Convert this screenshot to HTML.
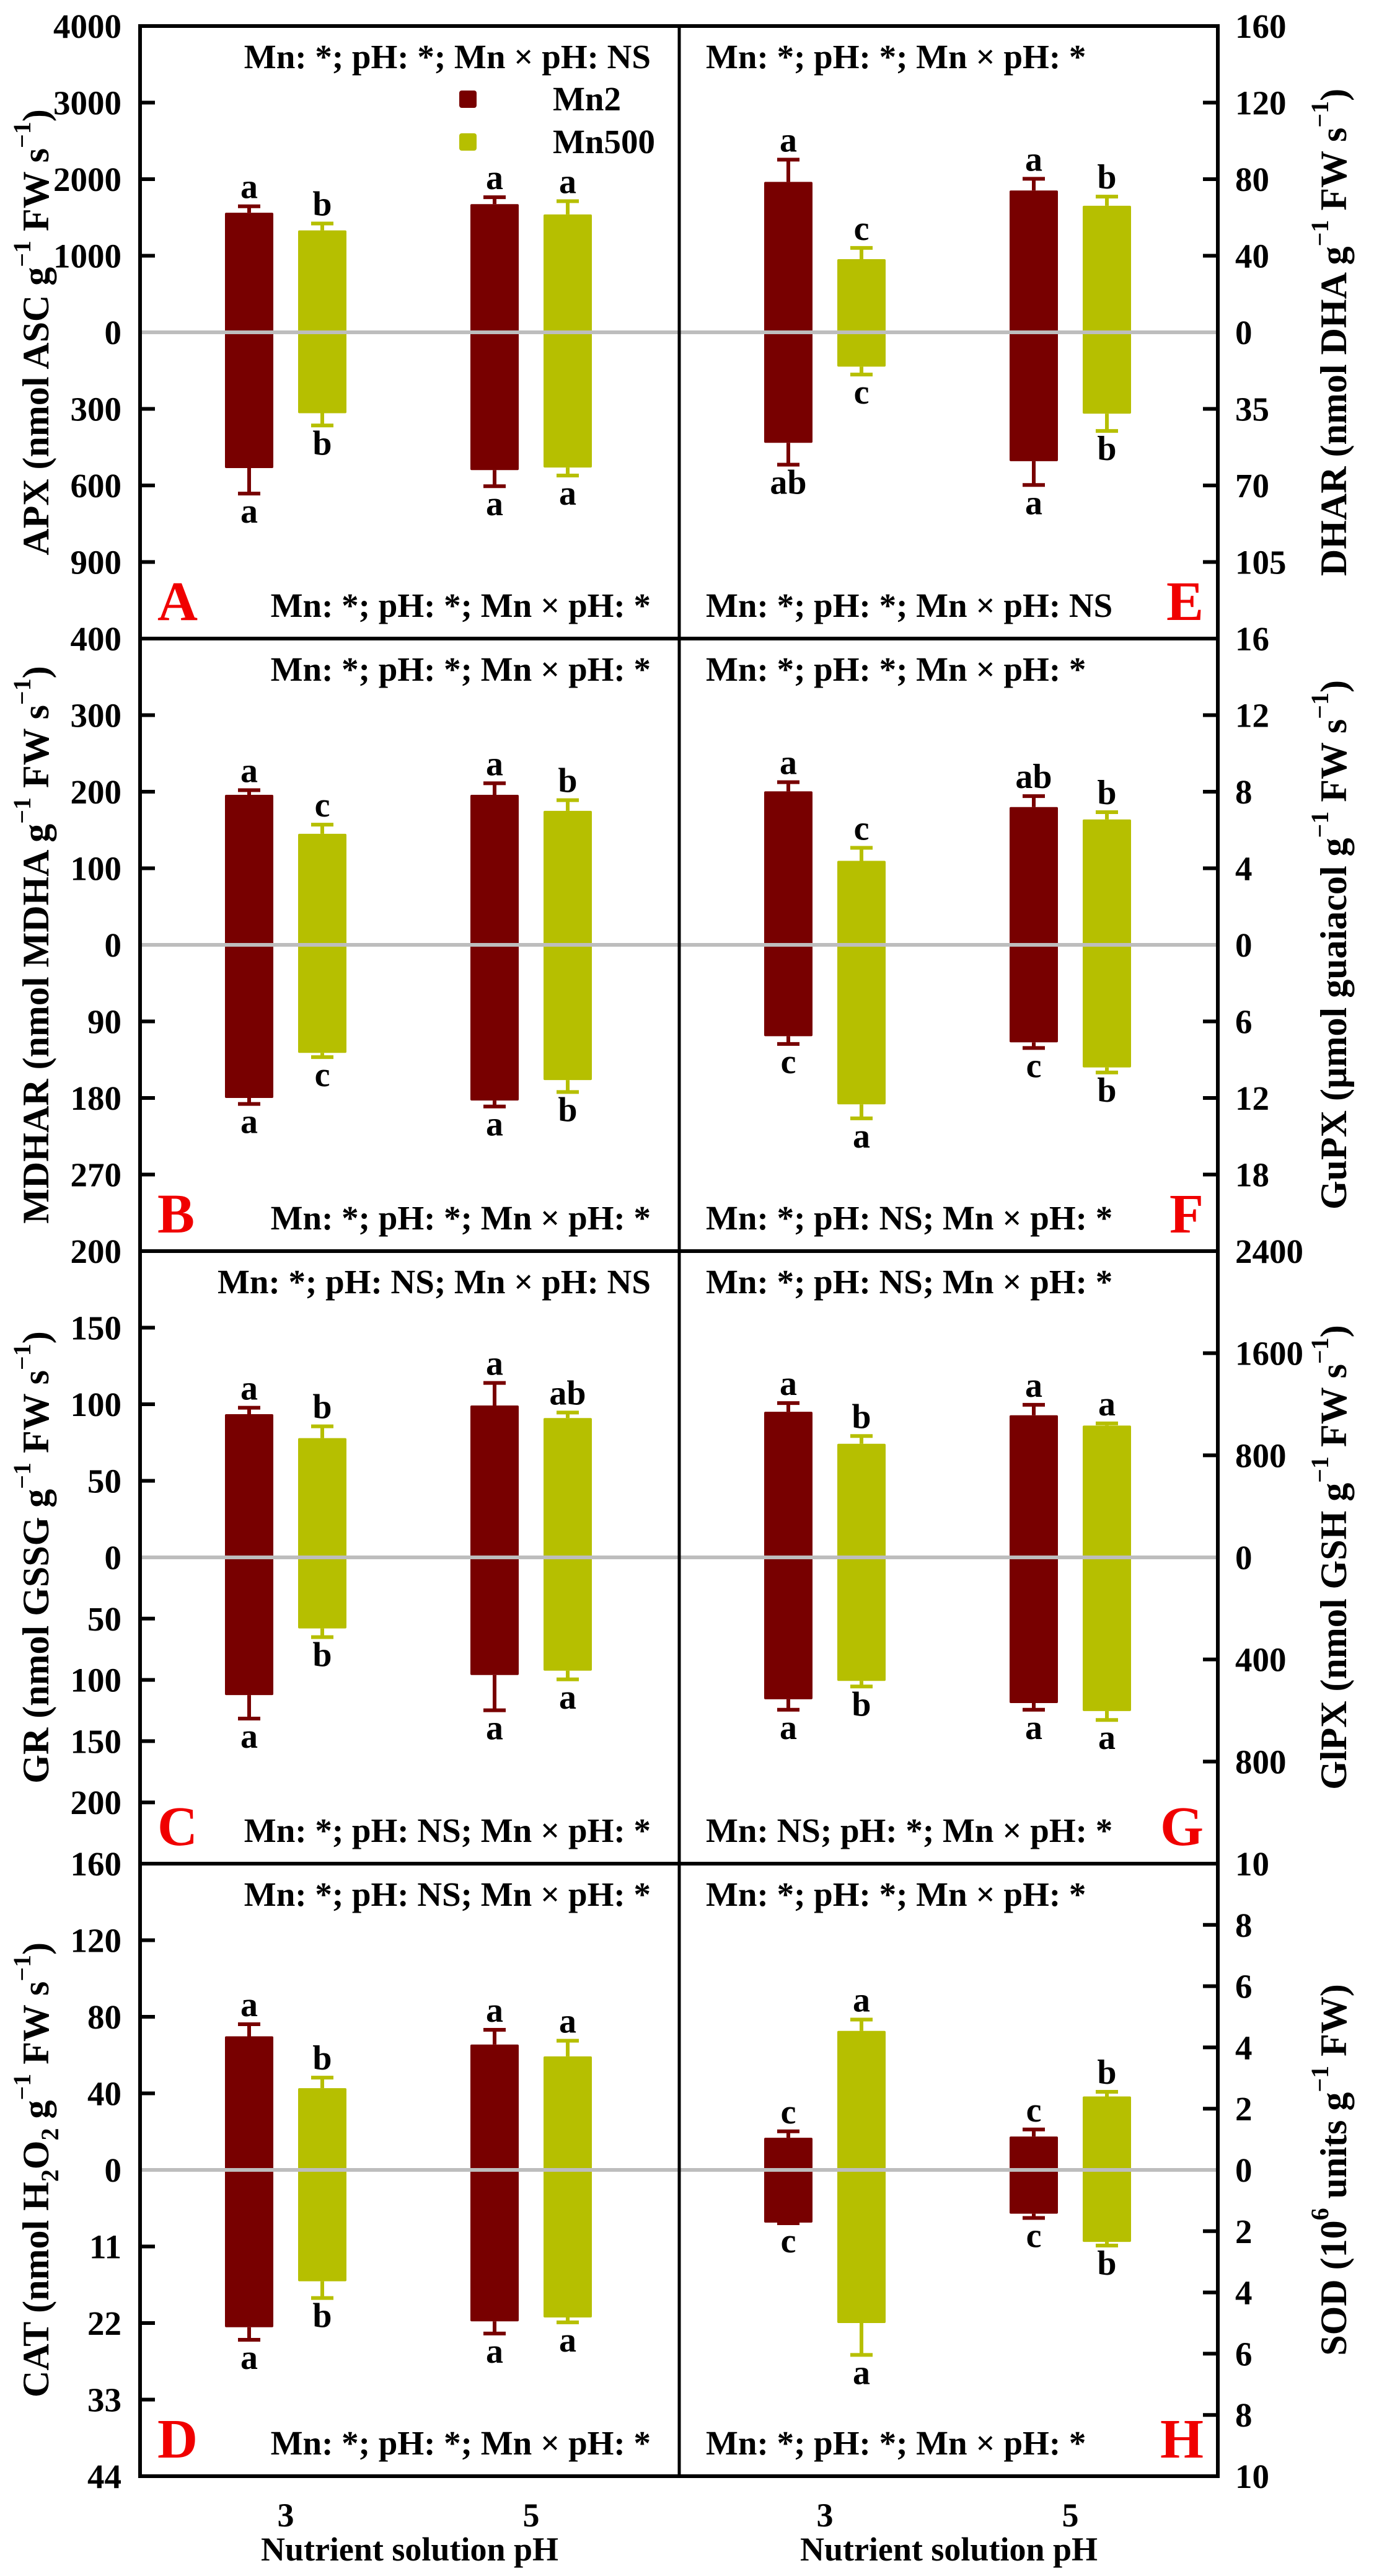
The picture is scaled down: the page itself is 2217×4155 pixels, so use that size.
<!DOCTYPE html>
<html><head><meta charset="utf-8"><style>
html,body{margin:0;padding:0;background:#fff;}
svg{display:block;font-family:"Liberation Serif",serif;font-weight:bold;}
</style></head><body>
<svg id="chart" width="2217" height="4155" viewBox="0 0 2217 4155" xmlns="http://www.w3.org/2000/svg"></svg>
<script>
// Order in every array: [Mn2 pH3, Mn500 pH3, Mn2 pH5, Mn500 pH5]
const aUp=[1562,1331,1674,1539], aUpErr=[1646,1421,1764,1713], aDn=[532,317,540,530], aDnErr=[632,365,603,561];
const aUpLet=['a','b','a','a'], aDnLet=['a','b','a','a'];
const bUp=[196,145,196,175], bUpErr=[202,157,211,189], bDn=[180,127,183,159], bDnErr=[187,132,190,173];
const bUpLet=['a','c','a','b'], bDnLet=['a','c','a','b'];
const cUp=[93.5,77.9,99.2,91], cUpErr=[97.7,85.6,113.9,94.6], cDn=[112.4,58,96,92.5], cDnErr=[131.6,65.1,124.8,99.6];
const cUpLet=['a','b','a','ab'], cDnLet=['a','b','a','a'];
const dUp=[69.8,42.7,65.5,59.3], dUpErr=[76.1,48.2,73.2,67.5], dDn=[22.6,16.0,21.75,21.2], dDnErr=[24.4,18.4,23.5,21.9];
const dUpLet=['a','b','a','a'], dDnLet=['a','b','a','a'];
const eUp=[78.6,38.2,74.1,66.1], eUpErr=[90.2,44.1,80.2,70.9], eDn=[50.5,15.7,58.9,37.2], eDnErr=[60.5,19.3,69.8,45.1];
const eUpLet=['a','c','a','b'], eDnLet=['ab','c','a','b'];
const fUp=[8.02,4.39,7.2,6.55], fUpErr=[8.5,5.07,7.77,6.93], fDn=[7.16,12.5,7.64,9.61], fDnErr=[7.77,13.6,8.08,10.0];
const fUpLet=['a','c','ab','b'], fDnLet=['c','a','c','b'];
const gUp=[1141,890,1114,1033], gUpErr=[1209,951,1196,1050], gDn=[556,484,571,602], gDnErr=[597,506,597,637];
const gUpLet=['a','b','a','a'], gDnLet=['a','b','a','a'];
const hUp=[1.05,4.54,1.09,2.4], hUpErr=[1.26,4.91,1.32,2.55], hDn=[1.72,5.0,1.43,2.35], hDnErr=[1.74,6.04,1.57,2.47];
const hUpLet=['c','a','c','b'], hDnLet=['c','a','c','b'];
// axis ranges and ticks
const upMax=[4000,400,200,160,160,16,2400,10];
const dnMax=[1200,360,250,44,140,24,1200,10];
const upTicks=[[1000,2000,3000,4000],[100,200,300,400],[50,100,150,200],[40,80,120,160],[40,80,120,160],[4,8,12,16],[800,1600,2400],[2,4,6,8,10]];
const dnTicks=[[300,600,900],[90,180,270],[50,100,150,200],[11,22,33,44],[35,70,105],[6,12,18],[400,800],[2,4,6,8,10]];
const panelLetters=['A','B','C','D','E','F','G','H'];
const statTop=['Mn: *; pH: *; Mn \u00d7 pH: NS','Mn: *; pH: *; Mn \u00d7 pH: *','Mn: *; pH: NS; Mn \u00d7 pH: NS','Mn: *; pH: NS; Mn \u00d7 pH: *','Mn: *; pH: *; Mn \u00d7 pH: *','Mn: *; pH: *; Mn \u00d7 pH: *','Mn: *; pH: NS; Mn \u00d7 pH: *','Mn: *; pH: *; Mn \u00d7 pH: *'];
const statBot=['Mn: *; pH: *; Mn \u00d7 pH: *','Mn: *; pH: *; Mn \u00d7 pH: *','Mn: *; pH: NS; Mn \u00d7 pH: *','Mn: *; pH: *; Mn \u00d7 pH: *','Mn: *; pH: *; Mn \u00d7 pH: NS','Mn: *; pH: NS; Mn \u00d7 pH: *','Mn: NS; pH: *; Mn \u00d7 pH: *','Mn: *; pH: *; Mn \u00d7 pH: *'];
const titleMain=['APX (nmol ASC g','MDHAR (nmol MDHA g','GR (nmol GSSG g','CAT (nmol H','DHAR (nmol DHA g','GuPX (\u00b5mol guaiacol g','GlPX (nmol GSH g','SOD  (10'];
const pHLabels=['3','5'];
const seriesNames=['Mn2','Mn500'];

const UP=[aUp,bUp,cUp,dUp,eUp,fUp,gUp,hUp], UPE=[aUpErr,bUpErr,cUpErr,dUpErr,eUpErr,fUpErr,gUpErr,hUpErr];
const DN=[aDn,bDn,cDn,dDn,eDn,fDn,gDn,hDn], DNE=[aDnErr,bDnErr,cDnErr,dDnErr,eDnErr,fDnErr,gDnErr,hDnErr];
const UL=[aUpLet,bUpLet,cUpLet,dUpLet,eUpLet,fUpLet,gUpLet,hUpLet], DL=[aDnLet,bDnLet,cDnLet,dDnLet,eDnLet,fDnLet,gDnLet,hDnLet];

const svg=document.getElementById('chart');
const NS='http://www.w3.org/2000/svg';
function el(tag,attrs,parent){const e=document.createElementNS(NS,tag);for(const k in attrs)e.setAttribute(k,attrs[k]);(parent||svg).appendChild(e);return e;}
const COLORS=['#780000','#b6bf00'];
const X0=226,XM=1096,X1=1965,TOP=42,PH=988,HALF=494;
const GROUP_OFF=[235,631], BAR_OFF=[-59,59], BW=78, CAP=36;

for(let p=0;p<8;p++){
  const col=p<4?0:1, row=p%4;
  const px=col?XM:X0, top=TOP+row*PH, zero=top+HALF;
  const yUp=v=>zero-v/upMax[p]*HALF, yDn=v=>zero+v/dnMax[p]*HALF;
  const g=el('g',{});
  
  
  for(let i=0;i<4;i++){
    const s=i%2, grp=Math.floor(i/2);
    const cx=px+GROUP_OFF[grp]+BAR_OFF[s];
    const yt=yUp(UP[p][i]), yb=yDn(DN[p][i]);
    const r=el('rect',{x:cx-BW/2,y:yt,width:BW,height:yb-yt,fill:COLORS[s],rx:2},g);
    
    
    const ye=yUp(UPE[p][i]), yd=yDn(DNE[p][i]);
    const e1=el('path',{d:`M${cx},${yt}V${ye}M${cx-CAP/2},${ye}H${cx+CAP/2}M${cx},${yb}V${yd}M${cx-CAP/2},${yd}H${cx+CAP/2}`,stroke:COLORS[s],'stroke-width':6,fill:'none'},g);
    
    
    const t1=el('text',{x:cx,y:ye-13,'text-anchor':'middle','font-size':56},g);t1.textContent=UL[p][i];
    
    
    const t2=el('text',{x:cx,y:yd+47,'text-anchor':'middle','font-size':56},g);t2.textContent=DL[p][i];
    
    
  }
  const zl=el('line',{x1:px,x2:col?X1:XM,y1:zero,y2:zero,stroke:'#bdbdbd','stroke-width':6},g);
  
  
  const axX=col?X1:X0, dir=col?-1:1;
  const lab=(v,y)=>{const t=el('text',{x:col?X1+28:X0-30,y:y+19,'text-anchor':col?'start':'end','font-size':55},g);t.textContent=v;
    
    };
  upTicks[p].forEach(v=>{const y=yUp(v);if(v<upMax[p])el('line',{x1:axX,x2:axX+dir*24,y1:y,y2:y,stroke:'#000','stroke-width':6},g);lab(v,y);});
  lab(0,zero);
  dnTicks[p].forEach(v=>{const y=yDn(v);if(v<dnMax[p])el('line',{x1:axX,x2:axX+dir*24,y1:y,y2:y,stroke:'#000','stroke-width':6},g);if(v<dnMax[p]||row==3)lab(v,y);});
  const st=el('text',{x:col?1139:1050,y:top+68,'text-anchor':col?'start':'end','font-size':55},g);st.textContent=statTop[p];
  
  
  const sb=el('text',{x:col?1139:1050,y:top+PH-35,'text-anchor':col?'start':'end','font-size':55},g);sb.textContent=statBot[p];
  
  
  const pl=el('text',{x:col?1942:254,y:top+PH-30,'text-anchor':col?'end':'start','font-size':90,fill:'#f00000','font-weight':'bold'},g);pl.textContent=panelLetters[p];
  
  
  const tx=col?2152:58, ty=top+HALF;
  const tt=el('text',{x:0,y:0,'text-anchor':'middle','font-size':60,transform:`translate(${tx},${ty}) rotate(-90)`,'dominant-baseline':'central'},g);
  
  
  const sup=(t)=>{const s=el('tspan',{'baseline-shift':'super','font-size':40},tt);s.textContent=t;};
  const sub=(t)=>{const s=el('tspan',{'baseline-shift':'sub','font-size':40},tt);s.textContent=t;};
  const txt=(t)=>{const s=el('tspan',{},tt);s.textContent=t;};
  txt(titleMain[p]);
  if(p==3){sub('2');txt('O');sub('2');txt(' g');}
  if(p==7){sup('6');txt(' units g');sup('\u22121');txt(' FW)');}
  else{sup('\u22121');txt(' FW s');sup('\u22121');txt(')');}
}
const fr=el('g',{});


el('rect',{x:X0,y:TOP,width:X1-X0,height:4*PH,fill:'none',stroke:'#000','stroke-width':6},fr);
el('line',{x1:XM,x2:XM,y1:TOP,y2:TOP+4*PH,stroke:'#000','stroke-width':5},fr);
for(let r=1;r<4;r++)el('line',{x1:X0,x2:X1,y1:TOP+r*PH,y2:TOP+r*PH,stroke:'#000','stroke-width':6},fr);
[X0,XM].forEach((px,ci)=>{
  pHLabels.forEach((l,gi)=>{const t=el('text',{x:px+GROUP_OFF[gi],y:4075,'text-anchor':'middle','font-size':54});t.textContent=l;
    
    });
  const xt=el('text',{x:px+435,y:4130,'text-anchor':'middle','font-size':54});xt.textContent='Nutrient solution pH';
  
  
});
const lg=el('g',{});


seriesNames.forEach((n,i)=>{
  const cy=160+i*69;
  el('rect',{x:741,y:cy-14,width:28,height:28,rx:4,fill:COLORS[i]},lg);
  const t=el('text',{x:892,y:cy+18,'font-size':55},lg);t.textContent=n;
  
  
});
</script>
</body></html>
